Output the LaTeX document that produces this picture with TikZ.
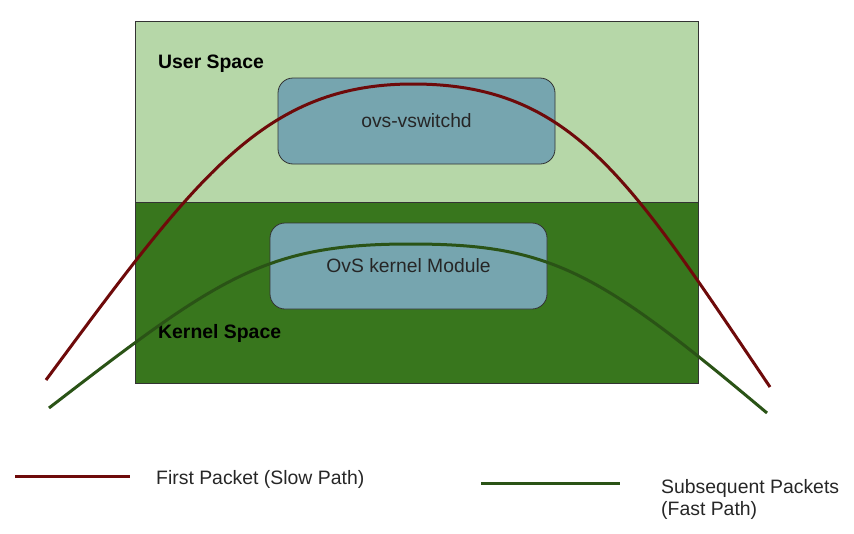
\documentclass[tikz,border=0pt]{standalone}
\usepackage{fontspec}
\setmainfont{Liberation Sans}
\usepackage{xcolor}
\usetikzlibrary{positioning}
\definecolor{userfill}{HTML}{B6D7A8}
\definecolor{kernfill}{HTML}{38761D}
\definecolor{modfill}{HTML}{76A5AF}
\definecolor{slowred}{HTML}{6E0A0A}
\definecolor{fastgreen}{HTML}{2A5316}

\begin{document}
\begin{tikzpicture}[x=1pt,y=-1pt,
  spacebox/.style={draw=black!80,line width=0.8pt},
  modbox/.style={draw=black!80,fill=modfill,rounded corners=15pt,line width=0.8pt,
    minimum width=277pt,minimum height=86pt,inner sep=0pt,
    font=\fontsize{19.3}{23}\selectfont,text=black!85},
  spacelabel/.style={anchor=west,inner sep=0pt,font=\fontsize{19.4}{23}\selectfont\bfseries},
  legendtext/.style={anchor=west,inner sep=0pt,align=left,font=\fontsize{19.4}{22}\selectfont,text=black!85},
  slowpath/.style={draw=slowred,line width=3pt},
  fastpath/.style={draw=fastgreen,line width=3pt}]
\useasboundingbox (0,0) rectangle (854,533);
\draw[spacebox,fill=userfill] (135,21) rectangle (698,202); % user space
\draw[spacebox,fill=kernfill] (135,202) rectangle (698,383); % kernel space
\node[spacelabel] (user) at (158,64) {User Space};
\node[spacelabel] (kernel) at (158,333) {Kernel Space};
\node[modbox] (vswitchd) at (416.5,121) {ovs-vswitchd};
\node[modbox] (kmod) at (408.5,266) {OvS kernel Module};
% the two packet paths
\coordinate (slowin) at (46,380);
\coordinate (slowtop) at (413,84);
\coordinate (slowout) at (770,387);
\draw[slowpath] (slowin) .. controls (196,177.5) and (263,84) .. (slowtop)
  .. controls (573,84) and (630,180) .. (slowout);
\coordinate (fastin) at (49,408);
\coordinate (fasttop) at (410,244);
\coordinate (fastout) at (767,413);
\draw[fastpath] (fastin) .. controls (219,277) and (265,244) .. (fasttop)
  .. controls (550,244) and (597,270) .. (fastout);
% legend
\coordinate (slowa) at (15,476);
\coordinate (slowb) at (130,476);
\draw[slowpath] (slowa) -- (slowb);
\node[legendtext] (slowtext) at (156,479) {First Packet (Slow Path)};
\coordinate (fasta) at (481,483);
\coordinate (fastb) at (620,483);
\draw[fastpath] (fasta) -- (fastb);
\node[legendtext] (fasttext) at (661,499) {Subsequent Packets\\(Fast Path)};
\end{tikzpicture}
\end{document}
